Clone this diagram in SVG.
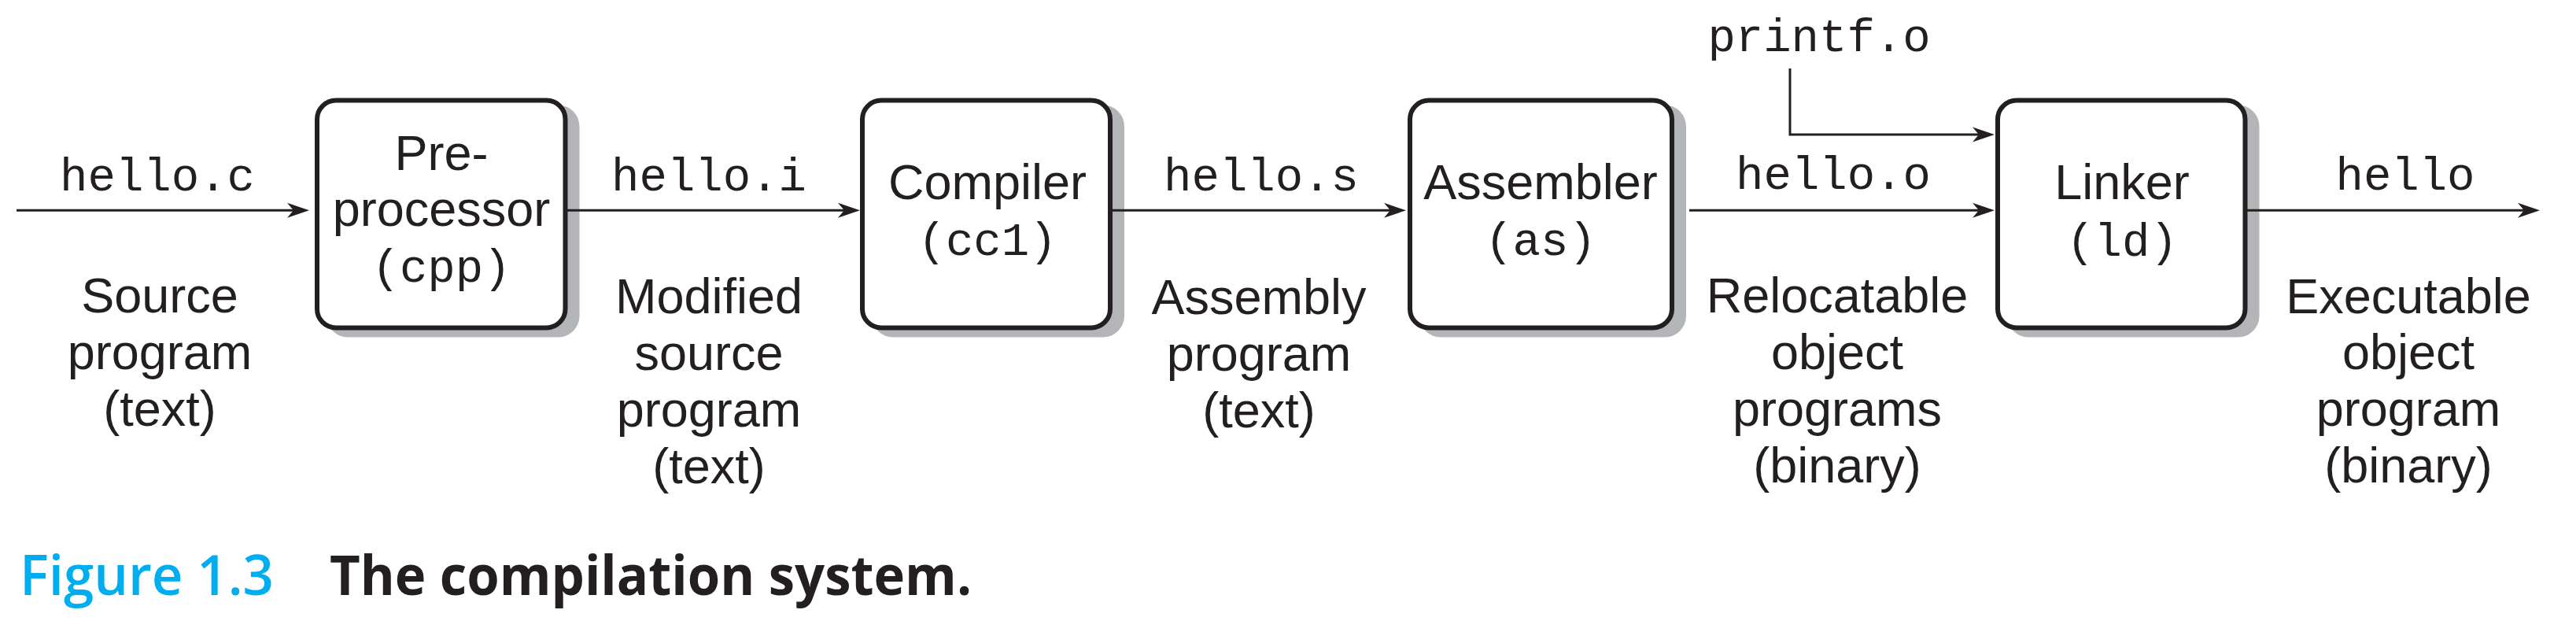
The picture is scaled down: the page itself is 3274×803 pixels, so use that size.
<svg xmlns="http://www.w3.org/2000/svg" width="3274" height="803" viewBox="0 0 3274 803">
<style>
.bg{fill:#ffffff}
.shadow{fill:#b4b5b8}
.box{fill:#ffffff;stroke:#231f20;stroke-width:6}
.sans{font-family:"Liberation Sans",Arial,Helvetica,sans-serif;font-size:63px;fill:#231f20;text-anchor:middle}
.mono{font-family:"Liberation Mono","Courier New",monospace;font-size:59px;fill:#231f20;text-anchor:middle}
.conn{fill:none;stroke:#231f20;stroke-width:3}
.cap1{font-family:"Open Sans","Noto Sans",sans-serif;font-size:70px;font-weight:600;fill:#00aeef}
.cap2{font-family:"Open Sans","Noto Sans",sans-serif;font-size:70px;font-weight:700;fill:#231f20}
</style>
<defs>
<marker id="arr" markerUnits="userSpaceOnUse" markerWidth="40" markerHeight="30" viewBox="-20 -15 40 30" refX="0" refY="0" orient="auto">
<path d="M15,0 L-13,-9.5 L-5,0 L-13,9.5 Z" fill="#231f20"/>
</marker>
</defs>
<rect class="bg" x="0" y="0" width="3274" height="803"/>

<g id="node-preprocessor">
<rect class="shadow" x="415" y="133.5" width="321.5" height="295" rx="27"/>
<rect class="box" x="403" y="127.5" width="315.5" height="289" rx="24"/>
<text class="sans" x="561" y="216">Pre-</text>
<text class="sans" x="561" y="287">processor</text>
<text class="mono" x="561" y="358">(cpp)</text>
</g>

<g id="node-compiler">
<rect class="shadow" x="1108" y="133.5" width="321" height="295" rx="27"/>
<rect class="box" x="1096" y="127.5" width="315" height="289" rx="24"/>
<text class="sans" x="1255" y="253">Compiler</text>
<text class="mono" x="1255" y="324">(cc1)</text>
</g>

<g id="node-assembler">
<rect class="shadow" x="1804" y="133.5" width="339" height="295" rx="27"/>
<rect class="box" x="1792" y="127.5" width="333" height="289" rx="24"/>
<text class="sans" x="1958" y="253">Assembler</text>
<text class="mono" x="1958" y="324">(as)</text>
</g>

<g id="node-linker">
<rect class="shadow" x="2551" y="133.5" width="320.5" height="295" rx="27"/>
<rect class="box" x="2539" y="127.5" width="314.5" height="289" rx="24"/>
<text class="sans" x="2697" y="253">Linker</text>
<text class="mono" x="2697" y="325">(ld)</text>
</g>

<g id="connectors">
<path class="conn" d="M21,267.3 H378" marker-end="url(#arr)"/>
<path class="conn" d="M721,267.3 H1078" marker-end="url(#arr)"/>
<path class="conn" d="M1414,267.3 H1772" marker-end="url(#arr)"/>
<path class="conn" d="M2147,267.3 H2520" marker-end="url(#arr)"/>
<path class="conn" d="M2856,267.3 H3213" marker-end="url(#arr)"/>
<path class="conn" d="M2275,87 V171 H2520" marker-end="url(#arr)"/>
</g>

<g id="labels">
<text class="mono" x="200" y="242">hello.c</text>
<text class="mono" x="901" y="242">hello.i</text>
<text class="mono" x="1603" y="242">hello.s</text>
<text class="mono" x="2330" y="240">hello.o</text>
<text class="mono" x="3057" y="241">hello</text>
<text class="mono" x="2312" y="65">printf.o</text>

<text class="sans" x="203" y="397">Source</text>
<text class="sans" x="203" y="469">program</text>
<text class="sans" x="203" y="541">(text)</text>

<text class="sans" x="901" y="398">Modified</text>
<text class="sans" x="901" y="470">source</text>
<text class="sans" x="901" y="542">program</text>
<text class="sans" x="901" y="614">(text)</text>

<text class="sans" x="1600" y="399">Assembly</text>
<text class="sans" x="1600" y="471">program</text>
<text class="sans" x="1600" y="543">(text)</text>

<text class="sans" x="2335" y="397">Relocatable</text>
<text class="sans" x="2335" y="469">object</text>
<text class="sans" x="2335" y="541">programs</text>
<text class="sans" x="2335" y="613">(binary)</text>

<text class="sans" x="3061" y="398">Executable</text>
<text class="sans" x="3061" y="469">object</text>
<text class="sans" x="3061" y="541">program</text>
<text class="sans" x="3061" y="613">(binary)</text>
</g>

<g id="caption">
<text class="cap1" x="25" y="756" textLength="323" lengthAdjust="spacingAndGlyphs">Figure 1.3</text>
<text class="cap2" x="419" y="756" textLength="816" lengthAdjust="spacingAndGlyphs">The compilation system.</text>
</g>
</svg>
